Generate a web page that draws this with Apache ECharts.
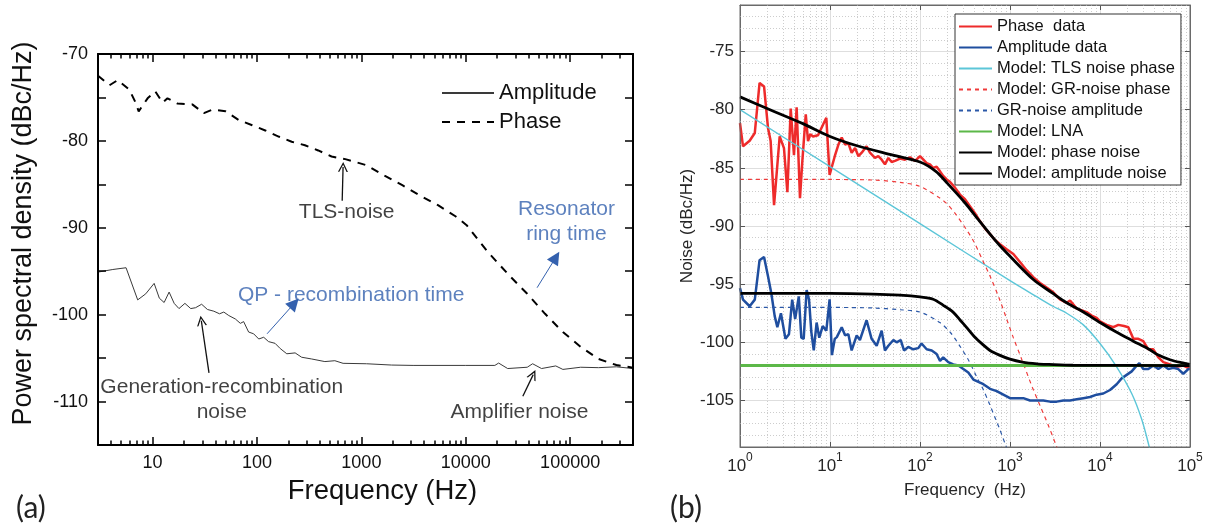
<!DOCTYPE html>
<html><head><meta charset="utf-8">
<script src="https://cdn.jsdelivr.net/npm/echarts@6/dist/echarts.min.js"></script>
<style>html,body{margin:0;padding:0;background:#fff}#c{width:1211px;height:529px}</style>
</head><body><div id="c"></div>
<script>
// ---------------- Panel (a) data ----------------
const aPhaseF = [3, 3.86, 4.64, 5.98, 6.82, 7.36, 8.96, 10.6, 12.5, 13.9, 17.3, 24, 31, 37.3, 50, 67, 90, 120, 161, 215, 288, 386, 518, 701, 1122, 1667, 2468, 3660, 5420, 8030, 10200, 16300, 26200, 38800, 57500, 85200, 126000, 187000, 277000, 400000];
const aPhaseV = [-72.5, -73.6, -73.0, -74.1, -75.5, -76.6, -75.1, -74.3, -75.6, -75.1, -75.7, -75.8, -76.8, -76.4, -76.6, -77.6, -78.2, -78.8, -79.5, -80.1, -80.5, -81.1, -81.8, -82.1, -82.8, -84.0, -85.1, -86.3, -87.4, -88.7, -89.7, -92.8, -95.5, -97.6, -99.9, -102.0, -103.7, -105.1, -105.8, -106.1];
const aAmpF = [3, 4.16, 5.57, 7.2, 8.6, 10.35, 11.6, 12.9, 14.4, 16.1, 17.9, 20.4, 23.2, 25.8, 29.5, 33.5, 38.6, 43.8, 48.1, 53.7, 62.1, 69.3, 74.5, 83.2, 92.9, 104, 116, 129, 149, 167, 193, 232, 268, 334, 447, 557, 668, 1122, 1950, 3130, 10000, 19000, 20650, 25200, 38800, 43700, 53200, 72800, 85200, 126000, 187000, 277000, 400000];
const aAmpV = [-95.1, -94.8, -94.6, -98.3, -97.6, -96.4, -98.1, -98.6, -97.4, -98.7, -99.3, -98.7, -99.3, -99.2, -98.8, -99.4, -99.6, -99.9, -99.7, -100.1, -100.5, -101.0, -100.8, -102.0, -102.2, -102.8, -102.6, -103.1, -103.3, -103.9, -104.5, -104.4, -104.9, -105.1, -105.4, -105.3, -105.6, -105.65, -105.8, -105.84, -105.84, -105.84, -105.57, -106.2, -106.05, -105.65, -106.2, -105.9, -106.3, -106.05, -106.1, -106.0, -106.2];
const aLegend = ['Amplitude', 'Phase'];
const aNoteBlack = [
  {name: 'TLS-noise', value: [723, -88.2]},
  {name: 'Generation-recombination\nnoise', value: [46, -109.8]},
  {name: 'Amplifier noise', value: [32700, -111.2]}
];
const aNoteBlue = [
  {name: 'QP - recombination time', value: [798, -97.75]},
  {name: 'Resonator\nring time', value: [92200, -89.3]}
];
const aArrowBlack = [
  [[655, -86.9], [668, -83.0]],
  [[34.7, -106.7], [29.3, -100.7]],
  [[35200, -109.4], [44300, -106.9]]
];
const aArrowBlue = [
  [[125, -102.2], [228, -98.7]],
  [[48200, -96.9], [73000, -93.4]]
];

// ---------------- Panel (b) data ----------------
const bPhaseF = [1, 1.08, 1.28, 1.46, 1.65, 1.85, 2.05, 2.19, 2.39, 2.76, 3.08, 3.36, 3.66, 3.98, 4.26, 4.64, 4.93, 5.38, 5.7, 6.04, 6.47, 7.36, 8.36, 9.1, 9.9, 11.3, 12.4, 13.5, 14.7, 16.0, 17.4, 19.0, 20.7, 22.5, 25.5, 27.8, 31.6, 34.4, 37.5, 40.8, 44.5, 48.4, 52.7, 60, 68, 77.4, 88, 100, 109, 118.5, 129, 140, 153, 167, 181, 198, 215, 245, 278, 316, 359, 408, 464, 527, 600, 681, 774, 918, 1089, 1291, 1531, 1815, 2154, 2553, 3028, 3594, 4266, 4645, 5508, 6531, 7111, 8080, 9180, 10000, 11860, 14070, 15990, 18480, 20650, 23470, 26680, 30280, 34420, 39150, 44480, 50560, 60000, 71000, 84300, 95700, 100000];
const bPhaseV = [-81.15, -83.15, -82.67, -82.0, -77.7, -78.0, -81.6, -82.7, -88.2, -82.3, -83.3, -87.1, -79.9, -83.9, -79.8, -87.6, -84.4, -80.4, -82.7, -82.1, -82.3, -82.2, -81.3, -80.7, -85.6, -84.0, -83.0, -82.4, -83.0, -82.9, -83.7, -83.3, -84.0, -83.7, -83.15, -83.7, -84.15, -84.0, -84.3, -84.7, -84.15, -84.5, -84.4, -84.2, -84.3, -84.1, -84.4, -84.0, -84.3, -84.6, -84.7, -85.0, -84.9, -85.3, -85.7, -86.0, -86.2, -86.7, -87.3, -87.7, -88.3, -88.9, -89.6, -90.2, -90.7, -91.2, -91.57, -92.0, -92.4, -93.1, -93.8, -94.4, -94.9, -95.3, -95.7, -96.3, -96.6, -96.4, -97.1, -97.3, -97.4, -97.7, -97.9, -98.2, -98.5, -98.7, -98.5, -98.6, -98.7, -99.7, -99.7, -99.9, -100.6, -100.6, -101.3, -101.7, -101.9, -102.1, -102.0, -102.2, -102.2];
const bAmpF = [1, 1.08, 1.28, 1.46, 1.65, 1.85, 2.05, 2.23, 2.43, 2.6, 2.85, 3.2, 3.5, 3.8, 4.1, 4.5, 4.8, 5.1, 5.5, 5.85, 6.2, 6.6, 7.1, 7.6, 8.3, 9.1, 9.9, 10.5, 11.3, 11.9, 13.5, 14.7, 16, 17.4, 19.8, 21.5, 25.5, 29, 33, 37.5, 40.8, 44.5, 50.6, 55, 61, 66.4, 74, 84, 95.7, 104, 118.6, 135, 153, 167, 181, 206, 234, 267, 303, 344, 392, 445, 506, 600, 711, 843, 1000, 1186, 1406, 1668, 1978, 2346, 2783, 3300, 3915, 4640, 5508, 6530, 7745, 9185, 10890, 12920, 15320, 17400, 19780, 22500, 25540, 27350, 30300, 34440, 39150, 44480, 50560, 57430, 65300, 74100, 84300, 95700, 100000];
const bAmpV = [-95.34, -96.33, -96.9, -96.33, -92.94, -92.66, -94.35, -95.8, -97.75, -98.7, -97.5, -99.7, -99.3, -96.33, -98.0, -96.05, -99.6, -99.7, -95.5, -96.33, -99.1, -100.7, -98.3, -99.6, -98.6, -99.0, -96.3, -101.1, -99.7, -99.55, -98.7, -99.4, -99.3, -100.7, -99.4, -99.8, -98.1, -99.7, -100.3, -99.0, -100.7, -100.3, -99.8, -100.0, -99.8, -100.7, -100.4, -100.6, -100.5, -100.1, -100.6, -100.7, -101.0, -101.6, -101.3, -101.7, -101.9, -102.0, -102.3, -102.6, -103.2, -103.4, -103.6, -104.0, -104.2, -104.5, -104.8, -104.8, -104.8, -105.0, -105.0, -105.0, -105.1, -105.1, -105.0, -105.0, -104.9, -104.8, -104.7, -104.5, -104.4, -104.1, -103.6, -103.1, -102.8, -102.5, -102.0, -101.8, -102.3, -102.3, -102.0, -102.3, -102.0, -102.3, -102.2, -102.3, -102.7, -102.3, -102.3];
const tlsF = [1, 10, 100, 1000, 2000, 3000, 4266, 6531, 10000, 15000, 22500, 29000, 35000, 40000];
const tlsV = [-80.0, -84.9, -89.8, -94.7, -96.1, -96.9, -97.5, -98.5, -100.1, -102.0, -104.4, -106.6, -108.9, -110.8];
const grPhF = [1, 10, 30, 60, 100, 166, 200, 250, 327, 400, 500, 600, 774, 918, 1089, 1340, 1778, 2200, 2718, 3270, 3600];
const grPhV = [-86.0, -86.0, -86.05, -86.25, -86.6, -87.6, -88.1, -89.0, -90.3, -91.4, -93.0, -94.3, -96.4, -98.0, -99.6, -101.4, -103.9, -105.6, -107.3, -108.9, -109.8];
const grAmF = [1, 10, 30, 60, 100, 166, 220, 276, 350, 422, 500, 592, 700, 763, 890, 1000];
const grAmV = [-97.0, -97.0, -97.05, -97.2, -97.4, -98.3, -99.2, -100.3, -101.6, -102.9, -104.0, -105.3, -106.7, -107.4, -108.8, -109.8];
const lnaF = [1, 100000];
const lnaV = [-102, -102];
const phModF = [1, 2, 5, 10, 20, 50, 100, 150, 200, 316, 450, 600, 774, 1000, 1815, 3000, 4266, 6531, 10000, 15000, 23470, 35000, 44480, 60000, 80000, 100000];
const phModV = [-78.9, -79.9, -81.2, -82.3, -83.1, -83.9, -84.5, -85.3, -86.3, -88.0, -89.5, -90.7, -91.7, -92.6, -94.6, -95.8, -96.6, -97.4, -98.3, -99.1, -99.9, -100.6, -101.1, -101.5, -101.75, -101.9];
const amModF = [1, 10, 30, 60, 100, 140, 180, 233, 280, 327, 400, 500, 600, 763, 1000, 1370, 2000, 2700, 5000, 100000];
const amModV = [-95.8, -95.8, -95.85, -95.95, -96.1, -96.3, -96.8, -97.4, -98.1, -98.7, -99.5, -100.2, -100.7, -101.1, -101.45, -101.7, -101.85, -101.9, -101.97, -102.0];
const bNames = ['Phase  data', 'Amplitude data', 'Model: TLS noise phase', 'Model: GR-noise phase', 'GR-noise amplitude', 'Model: LNA', 'Model: phase noise', 'Model: amplitude noise'];
const logMant = [2, 3, 4, 5, 6, 7, 8, 9];

// ---------------- helpers ----------------
const FONT = "'Liberation Sans', Arial, Helvetica, sans-serif";
const zip = (xs, ys) => xs.map((x, i) => [x, ys[i]]);
const isDecade = v => { const l = Math.log10(v); return Math.abs(l - Math.round(l)) < 1e-6; };
const A = {xMin: 3, xMax: 400000, yMin: -115, yMax: -70};
const B = {xMin: 1, xMax: 100000, yMin: -109, yMax: -71};
const gridA = {left: 98, top: 54, width: 535, height: 391, outerBoundsMode: 'none', containLabel: false};
const gridB = {left: 740, top: 5, width: 450, height: 442, outerBoundsMode: 'none', containLabel: false};
const aUnitPx = gridA.height / (A.yMax - A.yMin);
const aDecPx = gridA.width / Math.log10(A.xMax / A.xMin);
const bUnitPx = gridB.height / (B.yMax - B.yMin);
const bDecPx = gridB.width / Math.log10(B.xMax / B.xMin);

const seg = (p, q) => [{coord: p}, {coord: q}];
const aTicks = [];
for (let k = 0; k <= 5; k++) {
  const d = Math.pow(10, k);
  const list = [[d, 8]].concat(logMant.map(m => [m * d, 4.5]));
  list.forEach(([f, len]) => {
    if (f <= A.xMin || f >= A.xMax) return;
    const L = len / aUnitPx;
    aTicks.push(seg([f, A.yMin + 0.01], [f, A.yMin + L]), seg([f, A.yMax - 0.01], [f, A.yMax - L]));
  });
}
const aYvals = [];
for (let v = A.yMin + 5; v < A.yMax; v += 5) aYvals.push(v);
const aR = Math.pow(10, 8 / aDecPx);
aYvals.forEach(v => aTicks.push(seg([A.xMin * 1.001, v], [A.xMin * aR, v]), seg([A.xMax / 1.001, v], [A.xMax / aR, v])));

const bYvals = [];
for (let v = B.yMin + 1; v < B.yMax; v++) if (v % 5 === 0) bYvals.push(v);
const bTicks = [];
const bL = 5 / bUnitPx, bR = Math.pow(10, 5 / bDecPx);
for (let k = 1; k < 5; k++) { const d = Math.pow(10, k); bTicks.push(seg([d, B.yMin + 0.01], [d, B.yMin + bL]), seg([d, B.yMax - 0.01], [d, B.yMax - bL])); }
bYvals.forEach(v => bTicks.push(seg([B.xMin * 1.001, v], [B.xMin * bR, v]), seg([B.xMax / 1.001, v], [B.xMax / bR, v])));

const bMinorGrid = [], bMajorGrid = [];
for (let k = 0; k < 5; k++) logMant.forEach(m => bMinorGrid.push({xAxis: m * Math.pow(10, k)}));
for (let v = B.yMin + 1; v < B.yMax; v++) if (v % 5 !== 0) bMinorGrid.push({yAxis: v});
for (let k = 1; k < 5; k++) bMajorGrid.push({xAxis: Math.pow(10, k)});
bYvals.forEach(v => bMajorGrid.push({yAxis: v}));

const frame = (X0, X1, Y0, Y1) => [[X0, Y0], [X1, Y0], [X1, Y1], [X0, Y1], [X0, Y0]];

const chevron = 'path://M0,10 L5,0 L10,10 L8.6,10 L5,2.8 L1.4,10 Z';
const arrowLines = (list) => list.map(p => seg(p[0], p[1]));
const mlBase = {silent: true, symbol: 'none', label: {show: false}, animation: false};

const bLine = (name, xs, ys, color, width, type, smooth) => ({
  name, type: 'line', xAxisIndex: 2, yAxisIndex: 2, data: zip(xs, ys), symbol: 'none',
  smooth: smooth || false, color, lineStyle: {color, width, type: type || 'solid'}, z: 3
});
const axisBase = (color, width) => ({axisLine: {show: true, onZero: false, lineStyle: {color, width}}, axisTick: {show: false}, splitLine: {show: false}});

const chart = echarts.init(document.getElementById('c'), null, {renderer: 'canvas', width: 1211, height: 529});
const option = {
  animation: false,
  backgroundColor: '#fff',
  textStyle: {fontFamily: FONT},
  title: [
    {text: '(a)', left: 11, top: 488, textStyle: {fontSize: 30, fontWeight: 'normal', color: '#222', fontFamily: 'Lato, ' + FONT}},
    {text: '(b)', left: 665, top: 488, textStyle: {fontSize: 30, fontWeight: 'normal', color: '#222', fontFamily: 'Lato, ' + FONT}}
  ],
  grid: [gridA, gridB],
  legend: [
    {data: aLegend, orient: 'vertical', left: 436, top: 77, itemWidth: 52, itemHeight: 14, itemGap: 7, z: 10,
     selectedMode: false, itemStyle: {opacity: 0, borderWidth: 0},
     textStyle: {fontSize: 22, color: '#111', fontFamily: FONT}},
    {data: bNames, orient: 'vertical', left: 955, top: 14, itemWidth: 33, itemHeight: 14, itemGap: 4, z: 10,
     selectedMode: false, padding: [4, 6, 3, 3], borderColor: '#333', borderWidth: 1, backgroundColor: '#fff',
     itemStyle: {opacity: 0, borderWidth: 0},
     textStyle: {fontSize: 16.5, color: '#111', fontFamily: FONT}}
  ],
  xAxis: [
    Object.assign(axisBase('#000', 2), {type: 'log', gridIndex: 0, min: A.xMin, max: A.xMax, position: 'bottom',
     axisLabel: {margin: 9, fontSize: 18, color: '#111', formatter: v => isDecade(v) ? String(Math.round(v)) : ''},
     name: 'Frequency (Hz)', nameLocation: 'middle', nameGap: 32,
     nameTextStyle: {fontSize: 27.5, color: '#111', padding: [0, 0, 0, 34]}}),
    Object.assign(axisBase('#000', 2), {type: 'log', gridIndex: 0, min: A.xMin, max: A.xMax, position: 'top', axisLabel: {show: false}}),
    Object.assign(axisBase('#6b6b6b', 1), {type: 'log', gridIndex: 1, min: B.xMin, max: B.xMax, position: 'bottom',
     axisLabel: {margin: 5, formatter: v => isDecade(v) ? '{b|10}{s|' + Math.round(Math.log10(v)) + '}' : '',
       rich: {b: {fontSize: 17, color: '#262626', fontFamily: FONT, verticalAlign: 'bottom'},
              s: {fontSize: 12, color: '#262626', fontFamily: FONT, verticalAlign: 'top', padding: [0, 0, 11, 0]}}},
     name: 'Frequency  (Hz)', nameLocation: 'middle', nameGap: 35,
     nameTextStyle: {fontSize: 17, color: '#262626'}}),
    Object.assign(axisBase('#6b6b6b', 1), {type: 'log', gridIndex: 1, min: B.xMin, max: B.xMax, position: 'top', axisLabel: {show: false}})
  ],
  yAxis: [
    Object.assign(axisBase('#000', 2), {type: 'value', gridIndex: 0, min: A.yMin, max: A.yMax, interval: 5, position: 'left',
     axisLabel: {margin: 10, fontSize: 18, color: '#111', formatter: v => (v % 10 === 0 ? String(v) : '')},
     name: 'Power spectral density (dBc/Hz)', nameLocation: 'middle', nameGap: 61,
     nameTextStyle: {fontSize: 27, color: '#111', padding: [0, 0, 0, 32]}}),
    Object.assign(axisBase('#000', 2), {type: 'value', gridIndex: 0, min: A.yMin, max: A.yMax, interval: 5, position: 'right', axisLabel: {show: false}}),
    Object.assign(axisBase('#6b6b6b', 1), {type: 'value', gridIndex: 1, min: B.yMin, max: B.yMax, interval: 1, position: 'left',
     axisLabel: {margin: 6, fontSize: 17, color: '#262626', formatter: v => (v % 5 === 0 ? String(v) : '')},
     name: 'Noise (dBc/Hz)', nameLocation: 'middle', nameGap: 44,
     nameTextStyle: {fontSize: 17, color: '#262626'}}),
    Object.assign(axisBase('#6b6b6b', 1), {type: 'value', gridIndex: 1, min: B.yMin, max: B.yMax, interval: 1, position: 'right', axisLabel: {show: false}})
  ],
  series: [
    // panel (a) frame + ticks
    {type: 'line', xAxisIndex: 0, yAxisIndex: 0, data: frame(A.xMin, A.xMax, A.yMin, A.yMax), symbol: 'none', clip: false, silent: true, z: 6,
     lineStyle: {color: '#000', width: 2}},
    {type: 'line', xAxisIndex: 0, yAxisIndex: 0, data: [], z: 6,
     markLine: Object.assign({z: 6, lineStyle: {color: '#000', width: 1.5, type: 'solid'}, data: aTicks}, mlBase)},
    {name: 'Amplitude', type: 'line', xAxisIndex: 0, yAxisIndex: 0, data: zip(aAmpF, aAmpV), symbol: 'none',
     color: '#3a3a3a', lineStyle: {color: '#3a3a3a', width: 1}, z: 3},
    {name: 'Phase', type: 'line', xAxisIndex: 0, yAxisIndex: 0, data: zip(aPhaseF, aPhaseV), symbol: 'none',
     color: '#000', lineStyle: {color: '#000', width: 2, type: [8, 7]}, z: 3},
    {type: 'scatter', xAxisIndex: 0, yAxisIndex: 0, data: aNoteBlack, symbolSize: 1, itemStyle: {color: 'rgba(0,0,0,0)'}, z: 5, silent: true,
     label: {show: true, position: 'inside', formatter: '{b}', fontSize: 21, lineHeight: 25, color: '#111', align: 'center'}},
    {type: 'scatter', xAxisIndex: 0, yAxisIndex: 0, data: aNoteBlue, symbolSize: 1, itemStyle: {color: 'rgba(0,0,0,0)'}, z: 5, silent: true,
     label: {show: true, position: 'inside', formatter: '{b}', fontSize: 21, lineHeight: 25, color: '#3461ae', align: 'center'}},
    {type: 'line', xAxisIndex: 0, yAxisIndex: 0, data: [], z: 5,
     markLine: {z: 5, silent: true, symbol: ['none', chevron], symbolSize: 10, label: {show: false}, animation: false,
       lineStyle: {color: '#111', width: 1.3, type: 'solid'}, itemStyle: {color: '#111'}, data: arrowLines(aArrowBlack)}},
    {type: 'line', xAxisIndex: 0, yAxisIndex: 0, data: [], z: 5,
     markLine: {z: 5, silent: true, symbol: ['none', 'triangle'], symbolSize: 13, label: {show: false}, animation: false,
       lineStyle: {color: '#3461ae', width: 1, type: 'solid'}, itemStyle: {color: '#3461ae'}, data: arrowLines(aArrowBlue)}},
    // panel (b) grid + frame + ticks
    {type: 'line', xAxisIndex: 2, yAxisIndex: 2, data: [], z: 1,
     markLine: Object.assign({z: 1, lineStyle: {color: '#cdcdcd', width: 1, type: [1, 2]}, data: bMinorGrid}, mlBase)},
    {type: 'line', xAxisIndex: 2, yAxisIndex: 2, data: [], z: 1,
     markLine: Object.assign({z: 1, lineStyle: {color: '#dedede', width: 1, type: 'solid'}, data: bMajorGrid}, mlBase)},
    {type: 'line', xAxisIndex: 2, yAxisIndex: 2, data: frame(B.xMin, B.xMax, B.yMin, B.yMax), symbol: 'none', clip: false, silent: true, z: 6,
     lineStyle: {color: '#6b6b6b', width: 1}},
    {type: 'line', xAxisIndex: 2, yAxisIndex: 2, data: [], z: 6,
     markLine: Object.assign({z: 6, lineStyle: {color: '#555', width: 1, type: 'solid'}, data: bTicks}, mlBase)},
    bLine(bNames[0], bPhaseF, bPhaseV, '#ee2b2b', 2.5),
    bLine(bNames[1], bAmpF, bAmpV, '#1f4e9f', 2.5),
    bLine(bNames[2], tlsF, tlsV, '#5cc6d8', 1.4, 'solid', 0.3),
    bLine(bNames[3], grPhF, grPhV, '#ef3a3a', 1.2, [4, 4], 0.3),
    bLine(bNames[4], grAmF, grAmV, '#2b58a8', 1.2, [4, 4], 0.3),
    bLine(bNames[5], lnaF, lnaV, '#5cb848', 3),
    bLine(bNames[6], phModF, phModV, '#000', 2.8, 'solid', 0.3),
    bLine(bNames[7], amModF, amModV, '#000', 2.8, 'solid', 0.3)
  ]
};
chart.setOption(option);
</script>
</body></html>
